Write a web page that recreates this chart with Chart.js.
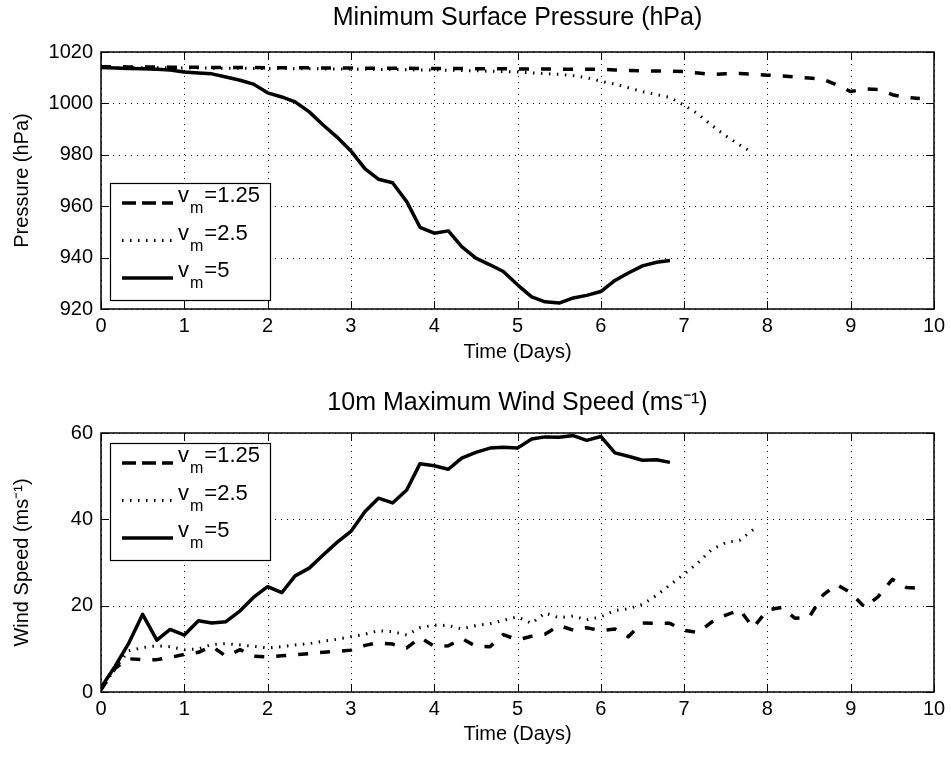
<!DOCTYPE html>
<html lang="en">
<head>
  <meta charset="UTF-8" />
  <title>Minimum Surface Pressure and 10m Maximum Wind Speed</title>
  <script src="https://cdn.jsdelivr.net/npm/chart.js"></script>
  <style>
    body {
      margin: 0;
      background: #fff;
    }
    .panel {
      position: relative;
      width: 951px;
    }
    #top-panel { height: 378px; }
    #bottom-panel { height: 379px; }
  </style>
</head>
<body>
  <div class="panel" id="top-panel"><canvas id="pressureChart"></canvas></div>
  <div class="panel" id="bottom-panel"><canvas id="windChart"></canvas></div>

  <script>
    // sample times (days), every 4 hours
    const days = [0, 0.17, 0.33, 0.5, 0.67, 0.83, 1, 1.17, 1.33, 1.5, 1.67, 1.83,
      2, 2.17, 2.33, 2.5, 2.67, 2.83, 3, 3.17, 3.33, 3.5, 3.67, 3.83,
      4, 4.17, 4.33, 4.5, 4.67, 4.83, 5, 5.17, 5.33, 5.5, 5.67, 5.83,
      6, 6.17, 6.33, 6.5, 6.67, 6.83, 7, 7.17, 7.33, 7.5, 7.67, 7.83,
      8, 8.17, 8.33, 8.5, 8.67, 8.83, 9, 9.17, 9.33, 9.5, 9.67, 9.83];

    const legendValues = ['1.25', '2.5', '5'];
    const xTicks = [0, 1, 2, 3, 4, 5, 6, 7, 8, 9, 10];
    const pressureTicks = [920, 940, 960, 980, 1000, 1020];
    const windTicks = [0, 20, 40, 60];

    // minimum surface pressure (hPa)
    const pressure125 = [1014.3, 1014.3, 1014.2, 1014.2, 1014.2, 1014.1, 1014.1, 1014.1, 1014.0, 1014.0,
      1014.0, 1014.0, 1013.9, 1013.9, 1013.9, 1013.9, 1013.8, 1013.8, 1013.8, 1013.7,
      1013.7, 1013.7, 1013.7, 1013.6, 1013.6, 1013.6, 1013.6, 1013.5, 1013.5, 1013.5,
      1013.4, 1013.4, 1013.4, 1013.3, 1013.3, 1013.3, 1013.3, 1013.0, 1012.8, 1012.7,
      1012.6, 1012.6, 1012.4, 1011.8, 1011.3, 1011.5, 1011.6, 1011.3, 1011.0, 1010.7,
      1010.3, 1009.9, 1009.4, 1007.2, 1004.6, 1005.6, 1005.4, 1003.4, 1002.3, 1001.9];
    const pressure25 = [1014.0, 1013.9, 1013.9, 1013.9, 1013.9, 1013.8, 1013.8, 1013.8, 1013.7, 1013.7,
      1013.7, 1013.6, 1013.6, 1013.6, 1013.5, 1013.5, 1013.4, 1013.4, 1013.3, 1013.3,
      1013.2, 1013.2, 1013.1, 1013.0, 1013.0, 1012.9, 1012.8, 1012.7, 1012.5, 1012.4,
      1012.2, 1011.9, 1011.6, 1011.3, 1010.8, 1010.0, 1008.6, 1007.5, 1006.1, 1004.6,
      1003.4, 1002.3, 999.3, 995.8, 991.5, 987.4, 983.8, 980.6];
    const pressure5 = [1014.0, 1013.8, 1013.6, 1013.5, 1013.3, 1013.0, 1012.2, 1011.8, 1011.5, 1010.3,
      1009.0, 1007.5, 1004.1, 1002.5, 1000.6, 996.7, 991.5, 987.0, 981.5, 974.5,
      970.5, 969.1, 961.8, 951.8, 949.5, 950.4, 944.3, 939.8, 937.2, 934.6,
      929.4, 924.7, 922.8, 922.3, 924.3, 925.3, 926.8, 931.1, 934.0, 936.8,
      938.2, 938.9];

    // 10m maximum wind speed (m/s)
    const wind125 = [0.5, 5.5, 7.7, 7.5, 7.5, 8.0, 8.7, 9.2, 10.6, 8.3,
      9.8, 8.3, 8.1, 8.4, 8.6, 8.9, 9.2, 9.4, 9.7, 10.8,
      11.4, 11.1, 10.2, 12.6, 10.6, 10.7, 12.4, 10.6, 10.5, 13.3,
      12.1, 12.9, 13.4, 15.4, 14.3, 14.9, 14.2, 14.6, 12.8, 16.0,
      15.9, 15.9, 14.3, 13.8, 16.2, 17.8, 19.0, 14.9, 19.0, 19.6,
      17.1, 17.3, 22.5, 24.9, 23.0, 19.6, 22.1, 26.1, 24.2, 24.0];
    const wind25 = [0.5, 5.5, 9.5, 10.3, 10.7, 10.5, 9.8, 10.0, 11.0, 11.2,
      10.9, 10.6, 10.2, 10.5, 10.9, 11.2, 11.8, 12.2, 12.8, 13.4,
      14.2, 14.0, 13.2, 14.9, 15.5, 15.4, 14.6, 15.4, 15.8, 16.6,
      17.4, 15.9, 18.3, 17.2, 17.6, 16.7, 17.4, 18.9, 19.3, 20.3,
      22.4, 24.8, 27.3, 30.0, 33.0, 34.6, 35.2, 37.6];
    const wind5 = [1.0, 6.0, 11.2, 18.0, 12.0, 14.5, 13.2, 16.5, 16.0, 16.3,
      18.8, 21.9, 24.4, 23.0, 26.9, 28.7, 31.8, 34.6, 37.2, 41.8,
      44.9, 43.8, 46.8, 52.9, 52.4, 51.6, 54.2, 55.5, 56.5, 56.7,
      56.5, 58.6, 59.1, 59.0, 59.4, 58.3, 59.2, 55.4, 54.6, 53.7,
      53.8, 53.2];

    const FONT = "'Liberation Sans', Arial, Helvetica, sans-serif";
    Chart.defaults.font.family = FONT;
    Chart.defaults.color = '#000';

    function points(values) {
      return values.map((v, i) => ({ x: days[i], y: v }));
    }

    const lineStyles = [
      { borderWidth: 3.5, borderDash: [10, 12], legendDash: [14, 6] },
      { borderWidth: 3, borderDash: [1.5, 6.5], legendDash: [1.5, 6.5] },
      { borderWidth: 3.5, borderDash: [], legendDash: [] }
    ];

    function makeDatasets(series) {
      return series.map((vals, i) => ({
        label: 'v_m=' + legendValues[i],
        data: points(vals),
        borderColor: '#000',
        backgroundColor: '#000',
        borderWidth: lineStyles[i].borderWidth,
        borderDash: lineStyles[i].borderDash,
        legendDash: lineStyles[i].legendDash,
        borderJoinStyle: 'round',
        pointRadius: 0,
        tension: 0,
        fill: false
      }));
    }

    // dotted grid, inward tick marks and the box round the axes
    const matlabAxes = {
      id: 'matlabAxes',
      beforeDatasetsDraw(chart) {
        const { ctx, chartArea: a } = chart;
        const x = chart.scales.x, y = chart.scales.y;
        ctx.save();
        ctx.strokeStyle = '#000';
        ctx.lineWidth = 1;
        ctx.setLineDash([1, 5]);
        x.ticks.forEach(t => {
          const px = Math.round(x.getPixelForValue(t.value)) + 0.5;
          ctx.beginPath(); ctx.moveTo(px, a.top); ctx.lineTo(px, a.bottom); ctx.stroke();
        });
        y.ticks.forEach(t => {
          const py = Math.round(y.getPixelForValue(t.value)) + 0.5;
          ctx.beginPath(); ctx.moveTo(a.left, py); ctx.lineTo(a.right, py); ctx.stroke();
        });
        ctx.restore();
      },
      afterDatasetsDraw(chart) {
        const { ctx, chartArea: a } = chart;
        const x = chart.scales.x, y = chart.scales.y;
        const len = 8;
        ctx.save();
        ctx.strokeStyle = '#000';
        ctx.lineWidth = 1;
        ctx.setLineDash([]);
        x.ticks.forEach(t => {
          const px = Math.round(x.getPixelForValue(t.value)) + 0.5;
          ctx.beginPath();
          ctx.moveTo(px, a.bottom); ctx.lineTo(px, a.bottom - len);
          ctx.moveTo(px, a.top); ctx.lineTo(px, a.top + len);
          ctx.stroke();
        });
        y.ticks.forEach(t => {
          const py = Math.round(y.getPixelForValue(t.value)) + 0.5;
          ctx.beginPath();
          ctx.moveTo(a.left, py); ctx.lineTo(a.left + len, py);
          ctx.moveTo(a.right, py); ctx.lineTo(a.right - len, py);
          ctx.stroke();
        });
        ctx.lineWidth = 1.5;
        ctx.strokeRect(a.left, a.top, a.right - a.left, a.bottom - a.top);
        ctx.restore();
      }
    };

    // legend with subscript "m"
    const vmLegend = {
      id: 'vmLegend',
      afterDatasetsDraw(chart, args, opts) {
        const { ctx, chartArea: a } = chart;
        const bx = a.left + 9, by = a.top + opts.top;
        const bw = 160, bh = 117;
        ctx.save();
        ctx.fillStyle = '#fff';
        ctx.fillRect(bx, by, bw, bh);
        ctx.strokeStyle = '#000';
        ctx.lineWidth = 1.2;
        ctx.strokeRect(bx + 0.5, by + 0.5, bw, bh);
        chart.data.datasets.forEach((ds, i) => {
          const ly = by + 20 + i * 37.5;
          ctx.beginPath();
          ctx.setLineDash(ds.legendDash);
          ctx.lineWidth = ds.borderWidth;
          ctx.moveTo(bx + 12, ly);
          ctx.lineTo(bx + 63, ly);
          ctx.stroke();
          ctx.setLineDash([]);
          ctx.fillStyle = '#000';
          ctx.textBaseline = 'alphabetic';
          ctx.font = '22px ' + FONT;
          ctx.fillText('v', bx + 68, ly - 1);
          const vw = ctx.measureText('v').width;
          ctx.font = '16px ' + FONT;
          ctx.fillText('m', bx + 68 + vw + 1, ly + 10);
          const mw = ctx.measureText('m').width;
          ctx.font = '22px ' + FONT;
          ctx.fillText('=' + legendValues[i], bx + 68 + vw + mw + 2, ly - 1);
        });
        ctx.restore();
      }
    };

    function makeOptions(cfg) {
      return {
        responsive: true,
        maintainAspectRatio: false,
        animation: false,
        layout: { padding: { left: 0, right: 17, top: 0, bottom: 0 } },
        plugins: {
          legend: { display: false },
          tooltip: { enabled: false },
          title: {
            display: true,
            fullSize: false,
            text: cfg.title,
            color: '#000',
            font: { size: 25, weight: 'normal' },
            padding: cfg.titlePadding
          },
          vmLegend: { top: cfg.legendTop }
        },
        scales: {
          x: {
            type: 'linear',
            min: 0,
            max: 10,
            afterBuildTicks: s => { s.ticks = xTicks.map(v => ({ value: v })); },
            afterFit: s => { s.height = cfg.xHeight; },
            ticks: { autoSkip: false, maxRotation: 0, padding: 5, font: { size: 20 }, color: '#000', callback: v => String(v) },
            grid: { display: false, drawTicks: false },
            border: { display: false },
            title: { display: true, text: 'Time (Days)', color: '#000', font: { size: 20 }, padding: { top: 0, bottom: cfg.xTitleBottom } }
          },
          y: {
            type: 'linear',
            min: cfg.yTicks[0],
            max: cfg.yTicks[cfg.yTicks.length - 1],
            afterBuildTicks: s => { s.ticks = cfg.yTicks.map(v => ({ value: v })); },
            afterFit: s => { s.width = 101; },
            ticks: { autoSkip: false, padding: 8, font: { size: 20 }, color: '#000', callback: v => String(v) },
            grid: { display: false, drawTicks: false },
            border: { display: false },
            title: { display: true, text: cfg.yTitle, color: '#000', font: { size: 20 }, padding: { top: 10, bottom: 0 } }
          }
        }
      };
    }

    new Chart(document.getElementById('pressureChart'), {
      type: 'line',
      data: { datasets: makeDatasets([pressure125, pressure25, pressure5]) },
      options: makeOptions({
        title: 'Minimum Surface Pressure (hPa)',
        titlePadding: { top: 3, bottom: 19 },
        yTitle: 'Pressure (hPa)',
        yTicks: pressureTicks,
        xHeight: 69,
        xTitleBottom: 14,
        legendTop: 131
      }),
      plugins: [matlabAxes, vmLegend]
    });

    new Chart(document.getElementById('windChart'), {
      type: 'line',
      data: { datasets: makeDatasets([wind125, wind25, wind5]) },
      options: makeOptions({
        title: '10m Maximum Wind Speed (ms\u207B\u00B9)',
        titlePadding: { top: 10, bottom: 15 },
        yTitle: 'Wind Speed (ms\u207B\u00B9)',
        yTicks: windTicks,
        xHeight: 65,
        xTitleBottom: 11,
        legendTop: 10
      }),
      plugins: [matlabAxes, vmLegend]
    });
  </script>
</body>
</html>
